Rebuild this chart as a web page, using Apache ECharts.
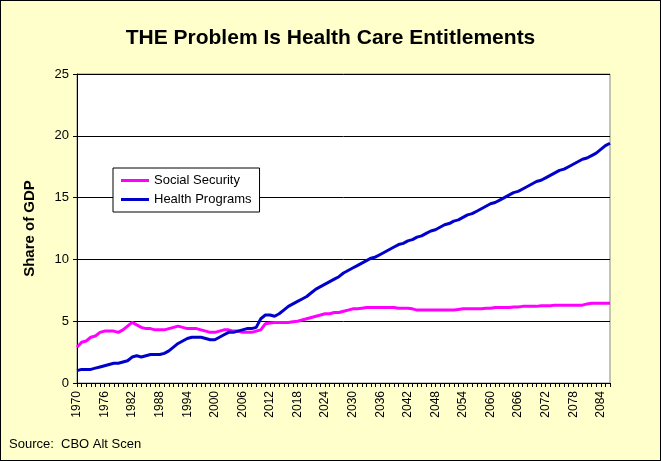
<!DOCTYPE html>
<html><head><meta charset="utf-8">
<script src="https://cdn.jsdelivr.net/npm/echarts@6/dist/echarts.min.js"></script>
<style>html,body{margin:0;padding:0;background:#FFFFCC}#c{width:659px;height:459px;border:1px solid #000}</style>
</head><body><div id="c"></div>
<script>
// years 1970..2086
var years = [];
for (var y = 1970; y <= 2086; y++) years.push(String(y));

var socialSecurity = [
  2.9,3.3,3.4,3.7,3.8,4.1,4.2,4.2,4.2,4.1,
  4.3,4.6,4.9,4.7,4.5,4.4,4.4,4.3,4.3,4.3,
  4.4,4.5,4.6,4.5,4.4,4.4,4.4,4.3,4.2,4.1,
  4.1,4.2,4.3,4.3,4.2,4.2,4.1,4.1,4.1,4.2,
  4.3,4.8,4.85,4.9,4.9,4.9,4.9,4.95,5.0,5.1,
  5.2,5.3,5.4,5.5,5.6,5.6,5.7,5.7,5.8,5.9,
  6.0,6.0,6.05,6.1,6.1,6.1,6.1,6.1,6.1,6.1,
  6.05,6.05,6.05,6.0,5.9,5.9,5.9,5.9,5.9,5.9,
  5.9,5.9,5.9,5.95,6.0,6.0,6.0,6.0,6.0,6.05,
  6.05,6.1,6.1,6.1,6.1,6.15,6.15,6.2,6.2,6.2,
  6.2,6.25,6.25,6.25,6.3,6.3,6.3,6.3,6.3,6.3,
  6.3,6.4,6.45,6.45,6.45,6.45,6.45
];
var healthPrograms = [
  1.0,1.1,1.1,1.1,1.2,1.3,1.4,1.5,1.6,1.6,
  1.7,1.8,2.1,2.2,2.1,2.2,2.3,2.3,2.3,2.4,
  2.6,2.9,3.2,3.4,3.6,3.7,3.7,3.7,3.6,3.5,
  3.5,3.7,3.9,4.1,4.1,4.2,4.3,4.4,4.4,4.5,
  5.2,5.5,5.5,5.4,5.6,5.9,6.2,6.4,6.6,6.8,
  7.0,7.3,7.6,7.8,8.0,8.2,8.4,8.6,8.9,9.1,
  9.3,9.5,9.7,9.9,10.1,10.2,10.4,10.6,10.8,11.0,
  11.2,11.3,11.5,11.6,11.8,11.9,12.1,12.3,12.4,12.6,
  12.8,12.9,13.1,13.2,13.4,13.6,13.7,13.9,14.1,14.3,
  14.5,14.6,14.8,15.0,15.2,15.4,15.5,15.7,15.9,16.1,
  16.3,16.4,16.6,16.8,17.0,17.2,17.3,17.5,17.7,17.9,
  18.1,18.2,18.4,18.6,18.9,19.2,19.4
];

var myChart = echarts.init(document.getElementById('c'));
var font = 'Arial, "Liberation Sans", sans-serif';
var option = {
  backgroundColor: '#FFFFCC',
  animation: false,
  textStyle: { fontFamily: font },
  title: {
    text: 'THE Problem Is Health Care Entitlements',
    left: 'center', top: 22,
    textStyle: { fontSize: 21, fontWeight: 'bold', color: '#000', fontFamily: font }
  },
  graphic: [{
    type: 'text', left: 8, top: 437,
    style: { text: 'Source:  CBO Alt Scen', fontSize: 13, fill: '#000', fontFamily: font }
  }],
  legend: {
    orient: 'vertical', left: 112, top: 167,
    backgroundColor: '#fff', borderColor: '#000', borderWidth: 1,
    padding: [6, 8, 6, 8], itemGap: 6, itemWidth: 28, itemHeight: 3,
    icon: 'rect',
    textStyle: { fontSize: 13, color: '#000', fontFamily: font },
    data: ['Social Security', 'Health Programs']
  },
  grid: { left: 76, right: 50, top: 73, bottom: 77, show: true, backgroundColor: '#fff', borderColor: '#888', borderWidth: 1 },
  xAxis: {
    type: 'category', data: years, boundaryGap: false,
    axisLine: { lineStyle: { color: '#000' } },
    axisTick: { interval: 0, length: 4, lineStyle: { color: '#000' } },
    axisLabel: { interval: 5, rotate: 90, fontSize: 12, color: '#000', margin: 8, fontFamily: font },
    splitLine: { show: false }
  },
  yAxis: {
    type: 'value', min: 0, max: 25, interval: 5,
    name: 'Share of GDP', nameLocation: 'middle', nameGap: 40,
    nameTextStyle: { fontSize: 15, fontWeight: 'bold', color: '#000', fontFamily: font },
    axisLine: { show: true, lineStyle: { color: '#000' } },
    axisTick: { show: true, length: 4, lineStyle: { color: '#000' } },
    axisLabel: { fontSize: 13, color: '#000', fontFamily: font },
    splitLine: { lineStyle: { color: '#000', width: 1 } }
  },
  series: [
    { name: 'Social Security', type: 'line', data: socialSecurity, showSymbol: false, symbol: 'none',
      color: '#FF00FF', lineStyle: { width: 3, color: '#FF00FF' } },
    { name: 'Health Programs', type: 'line', data: healthPrograms, showSymbol: false, symbol: 'none',
      color: '#0000CC', lineStyle: { width: 3, color: '#0000CC' } }
  ]
};
myChart.setOption(option);
window.addEventListener('resize', myChart.resize);
</script>
</body></html>
